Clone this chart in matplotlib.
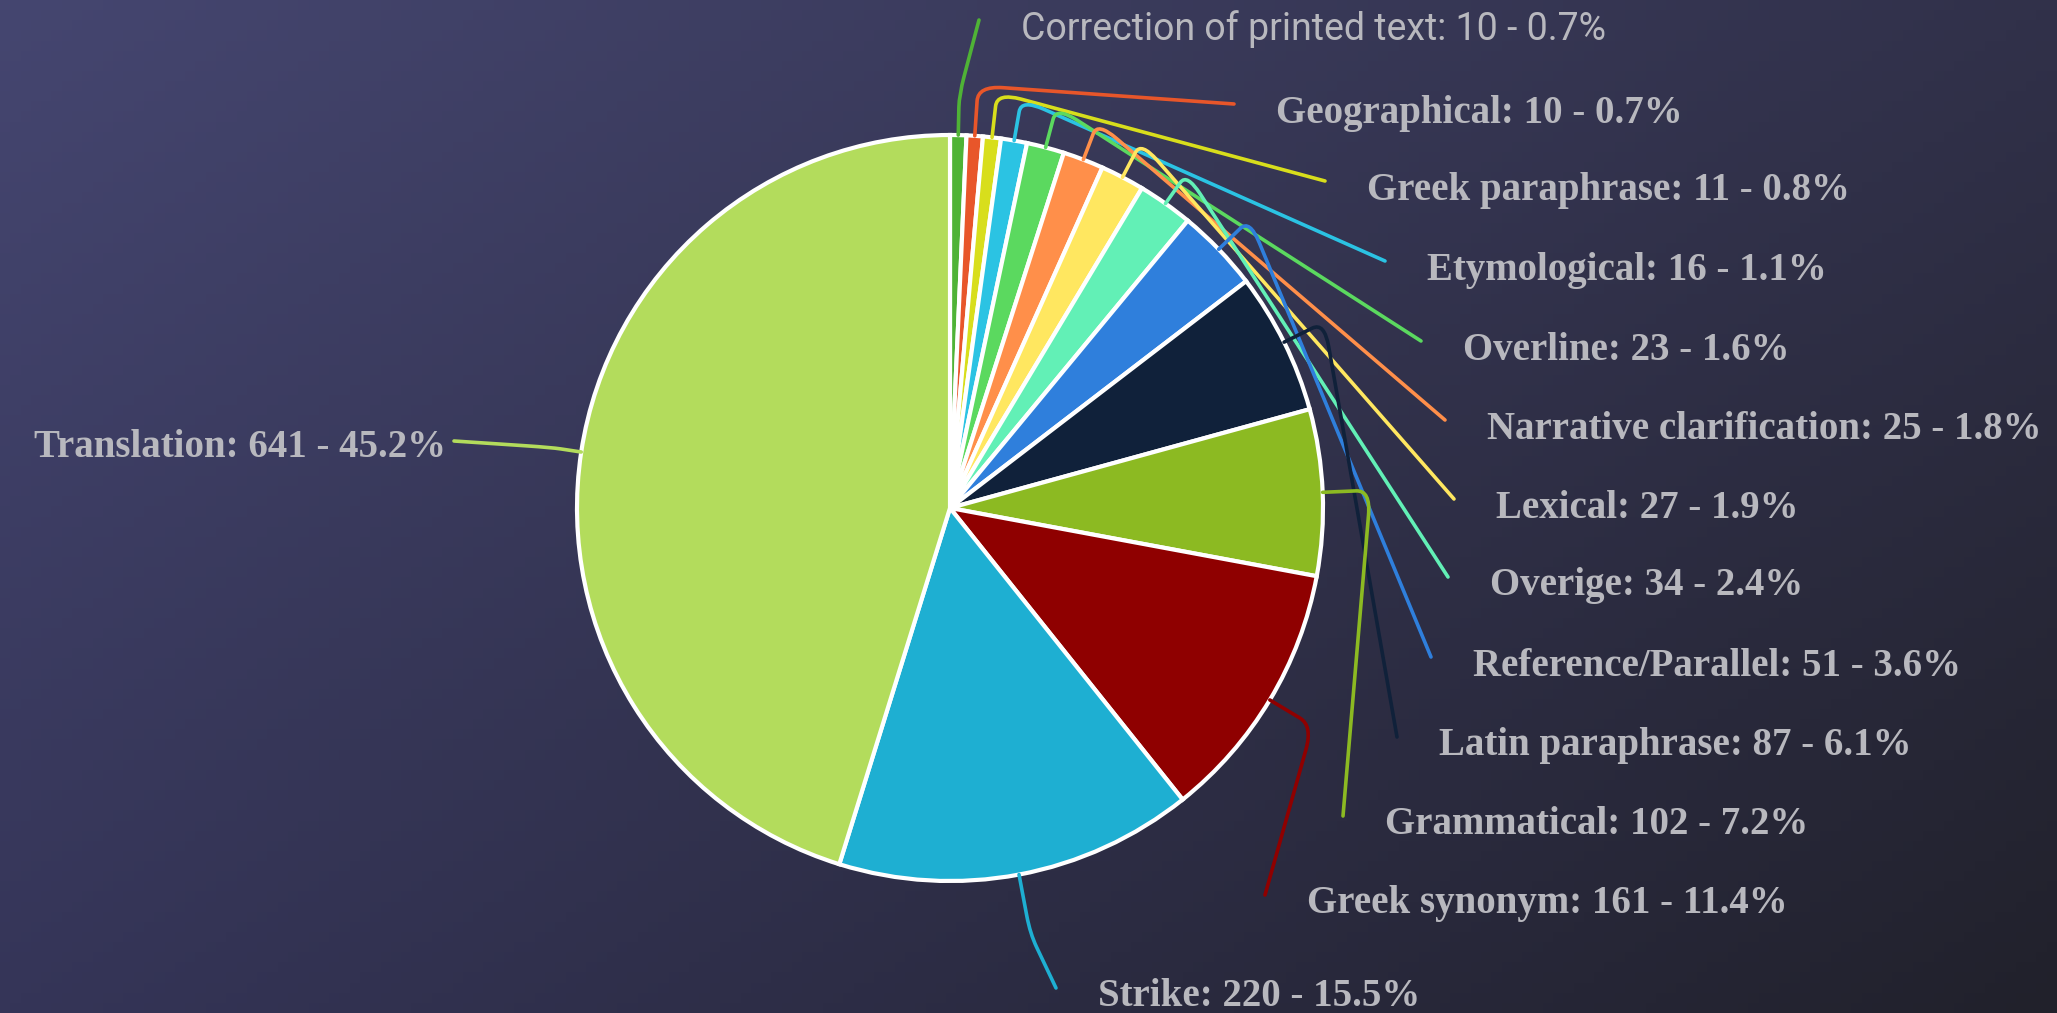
"""Pie chart of annotation types with curved leader lines on a dark gradient."""

import matplotlib
matplotlib.use("Agg")
import matplotlib.pyplot as plt
import numpy as np
from matplotlib.path import Path
from matplotlib.patches import PathPatch

W, H = 2057, 1013

categories = [
    "Correction of printed text", "Geographical", "Greek paraphrase", "Etymological",
    "Overline", "Narrative clarification", "Lexical", "Overige", "Reference/Parallel",
    "Latin paraphrase", "Grammatical", "Greek synonym", "Strike", "Translation",
]
counts = [10, 10, 11, 16, 23, 25, 27, 34, 51, 87, 102, 161, 220, 641]
colors = [
    "#4fb336", "#e8562a", "#d8de1c", "#2bc3e3", "#5bd95f", "#ff8f4a", "#ffe760",
    "#62f0b6", "#2f7fdc", "#10213a", "#8cba22", "#8f0000", "#1eafd2", "#b3dc5c",
]

# label anchors (x, y from top) in pixels; Translation text ends at its x
label_pos = [
    (1021, 29), (1276, 113), (1367, 190), (1427, 270), (1463, 350), (1487, 429),
    (1496, 508), (1490, 586), (1473, 666), (1439, 746), (1385, 825), (1307, 904),
    (1098, 997), (446, 447),
]
leader_ext = [40, 50, 45, 42, 42, 40, 40, 37, 43, 45, 48, 50, 60, 30]

CX, CY, R = 950, H - 508, 373
TEXT_COLOR = "#b8b8be"

fig = plt.figure(figsize=(W / 100, H / 100), dpi=100)
ax = fig.add_axes([0, 0, 1, 1])
ax.axis("off")

# background gradient from the four corners
tl, tr = np.array([69, 70, 112]), np.array([49, 49, 74])
bl, br = np.array([53, 53, 88]), np.array([33, 33, 43])
u = np.linspace(0, 1, 200)[None, :, None]
v = np.linspace(0, 1, 100)[:, None, None]
grad = ((1 - v) * ((1 - u) * tl + u * tr) + v * ((1 - u) * bl + u * br)) / 255
ax.imshow(grad, extent=[0, W, 0, H], origin="upper", aspect="auto", zorder=0)

wedges, _ = ax.pie(
    counts, colors=colors, startangle=90, counterclock=False,
    center=(CX, CY), radius=R, frame=True,
    wedgeprops=dict(edgecolor="white", linewidth=3),
)
ax.set_xlim(0, W)
ax.set_ylim(0, H)
ax.set_aspect("equal")
for w in wedges:
    w.set_zorder(2)

total = sum(counts)
for wedge, name, n, color, (lx, ly), ext in zip(wedges, categories, counts, colors, label_pos, leader_ext):
    ang = np.deg2rad((wedge.theta1 + wedge.theta2) / 2)
    d = np.array([np.cos(ang), np.sin(ang)])
    p0 = np.array([CX, CY]) + d * R
    elbow = p0 + d * ext
    text = f"{name}: {n} - {100 * n / total:.1f}%"
    if name == "Translation":
        end = np.array([lx + 8, H - ly + 6])
        ha = "right"
    else:
        end = np.array([lx - 42, H - ly + 9])
        ha = "left"
    # rounded corner at the elbow
    a = p0 + (elbow - p0) * 0.7
    seg = end - elbow
    b = elbow + seg * min(0.25, 25 / max(np.linalg.norm(seg), 1))
    verts = [p0, a, elbow, b, end]
    codes = [Path.MOVETO, Path.LINETO, Path.CURVE3, Path.CURVE3, Path.LINETO]
    ax.add_patch(PathPatch(Path(verts, codes), fill=False, edgecolor=color, lw=2.6, zorder=3,
                           capstyle="round", joinstyle="round"))
    if name == "Correction of printed text":
        ax.text(lx, H - ly, text, ha=ha, va="center", fontsize=27, color=TEXT_COLOR,
                family=["Roboto", "DejaVu Sans"], fontstretch="condensed")
    else:
        ax.text(lx, H - ly, text, ha=ha, va="center", fontsize=28, color=TEXT_COLOR,
                family=["Liberation Serif", "DejaVu Serif"], fontweight="bold")

fig.savefig("out.png", dpi=100)
